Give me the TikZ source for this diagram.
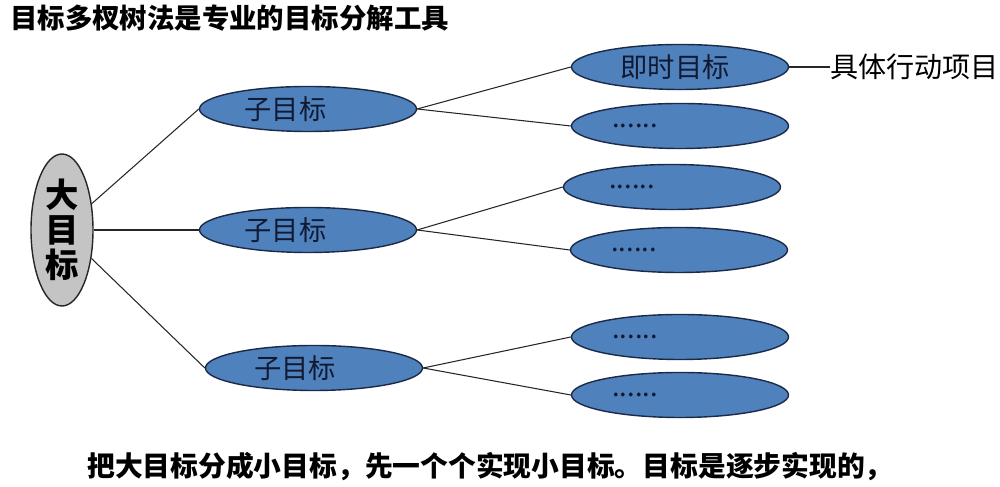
\documentclass[tikz,border=0pt]{standalone}
\usepackage{fontspec}
\usepackage{xcolor}
\usepackage{tikz}
\usetikzlibrary{shapes.geometric, positioning}
\newfontfamily\cjk{Noto Sans CJK SC}
\definecolor{goalBlue}{HTML}{4F81BD}
\definecolor{goalEdge}{HTML}{1C2A48}
\definecolor{goalText}{HTML}{111A33}
\definecolor{rootGray}{HTML}{C4C4C4}
\newcommand{\padr}[2]{#1\hspace*{#2}}

\begin{document}
\begin{tikzpicture}[
    font=\cjk,
    root/.style={draw=black!85, fill=rootGray, ellipse, line width=0.8pt, inner sep=0pt, minimum width=1.24cm, minimum height=3.04cm, align=center, font=\cjk\bfseries\fontsize{19}{20}\selectfont},
    subgoal/.style={draw=goalEdge, fill=goalBlue, ellipse, line width=0.8pt, inner sep=0pt, minimum width=4.34cm, minimum height=0.9cm, text=goalText, font=\cjk\fontsize{15.5}{17}\selectfont},
    leaf/.style={subgoal},
    line/.style={draw=black!85, line width=0.6pt}
]
    \useasboundingbox (0,0) rectangle (20,9.74);

    % Title and caption
    \node[anchor=west, font=\cjk\bfseries\fontsize{15.6}{18}\selectfont] (title) at (0.08,9.38) {目标多杈树法是专业的目标分解工具};
    \node[font=\cjk\bfseries\fontsize{15.8}{18}\selectfont] (caption) at (9.8,0.4) {把大目标分成小目标，先一个个实现小目标。目标是逐步实现的，};

    % Nodes
    \node[root] (big) at (1.24,5.14) {大\\目\\标};
    \node[subgoal] (subA) at (6.16,7.56) {\padr{子目标}{0.9cm}};
    \node[subgoal] (subB) at (6.16,5.14) {\padr{子目标}{0.9cm}};
    \node[subgoal] (subC) at (6.28,2.38) {\padr{子目标}{0.75cm}};

    \node[leaf] (leafA) at (13.6,8.4) {\padr{即时目标}{0.2cm}};
    \node[leaf] (leafB) at (13.6,7.22) {\padr{......}{1.8cm}};
    \node[leaf] (leafC) at (13.44,6.0) {\padr{......}{1.6cm}};
    \node[leaf] (leafD) at (13.58,4.74) {\padr{......}{1.8cm}};
    \node[leaf] (leafE) at (13.6,3.0) {\padr{......}{1.8cm}};
    \node[leaf] (leafF) at (13.6,1.84) {\padr{......}{1.8cm}};

    \node[anchor=west, inner sep=0pt, font=\cjk\fontsize{16}{18}\selectfont] (action) at (16.6,8.4) {具体行动项目};

    % Connections
    \draw[line] (big) -- (subA.west);
    \draw[line] (big) -- (subB.west);
    \draw[line] (big) -- (subC.west);
    \draw[line] (subA.east) -- (leafA.west);
    \draw[line] (subA.east) -- (leafB.west);
    \draw[line] (subB.east) -- (leafC.west);
    \draw[line] (subB.east) -- (leafD.west);
    \draw[line] (subC.east) -- (leafE.west);
    \draw[line] (subC.east) -- (leafF.west);
    \draw[line, line width=0.8pt] (leafA.east) -- (action.west);

\end{tikzpicture}
\end{document}
